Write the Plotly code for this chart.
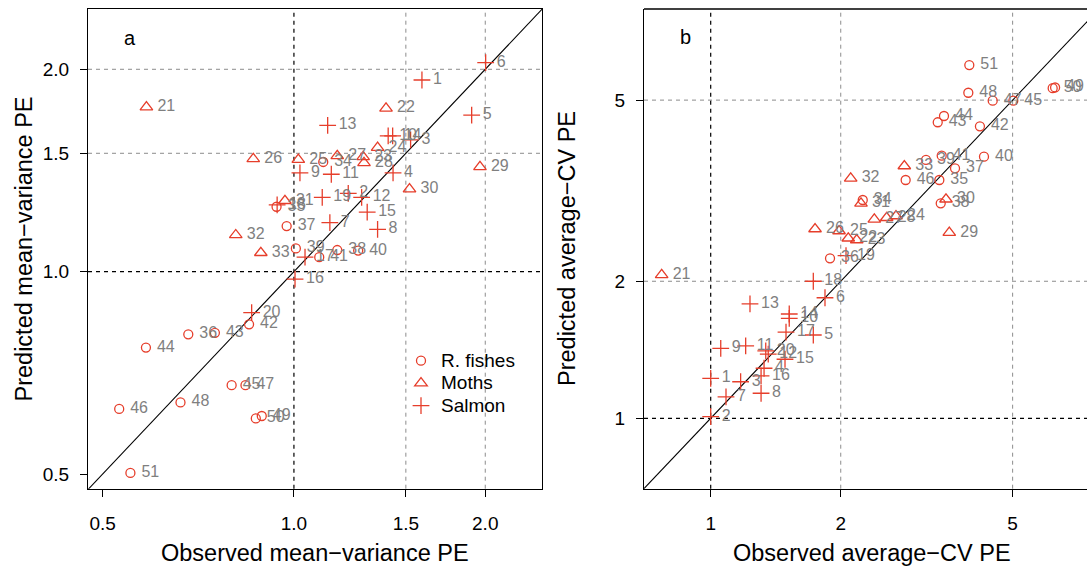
import math
import plotly.graph_objects as go

W, H = 1087, 567
RED = "#E63E2B"
GREY = "#7F7F7F"
FONT = "Liberation Sans, Arial, Helvetica, sans-serif"

# Population ids per group
salmon_id = list(range(1, 21))
moth_id = list(range(21, 34))
fish_id = list(range(34, 52))

# Panel a: mean-variance portfolio effect
mv_obs_salmon = [1.590, 1.2175, 1.526, 1.432, 1.904, 2.003, 1.139, 1.354, 1.022, 1.407,
                 1.145, 1.278, 1.130, 1.430, 1.304, 1.004, 1.041, 0.941, 1.108, 0.858]
mv_pred_salmon = [1.928, 1.308, 1.570, 1.403, 1.710, 2.046, 1.183, 1.156, 1.403, 1.592,
                  1.396, 1.290, 1.651, 1.592, 1.226, 0.975, 1.051, 1.257, 1.290, 0.869]
mv_obs_moth = [0.586, 1.396, 1.285, 1.354, 1.016, 0.863, 1.170, 1.289, 1.962, 1.520,
               0.968, 0.810, 0.887]
mv_pred_moth = [1.757, 1.750, 1.482, 1.529, 1.468, 1.472, 1.487, 1.452, 1.432, 1.327,
                1.275, 1.134, 1.067]
mv_obs_fish = [1.112, 0.939, 0.682, 0.974, 1.170, 1.007, 1.262, 1.096, 0.850, 0.751,
               0.585, 0.798, 0.531, 0.839, 0.663, 0.890, 0.871, 0.553]
mv_pred_fish = [1.456, 1.249, 0.807, 1.169, 1.077, 1.083, 1.075, 1.051, 0.835, 0.811,
                0.771, 0.678, 0.625, 0.678, 0.639, 0.610, 0.605, 0.502]

# Panel b: average-CV portfolio effect
cv_obs_salmon = [1.000, 1.000, 1.173, 1.329, 1.728, 1.839, 1.085, 1.308, 1.055, 1.520,
                 1.205, 1.359, 1.233, 1.520, 1.486, 1.308, 1.494, 1.728, 2.057, 1.341]
cv_pred_salmon = [1.224, 1.008, 1.203, 1.288, 1.524, 1.840, 1.115, 1.135, 1.425, 1.658,
                  1.442, 1.384, 1.783, 1.695, 1.348, 1.239, 1.547, 2.000, 2.276, 1.406]
cv_obs_moth = [0.770, 2.082, 2.178, 2.685, 1.982, 1.744, 2.392, 2.555, 3.567, 3.505,
               2.228, 2.109, 2.807]
cv_pred_moth = [2.065, 2.486, 2.464, 2.782, 2.579, 2.605, 2.736, 2.758, 2.557, 3.028,
                2.967, 3.367, 3.583]
cv_obs_fish = [2.249, 3.383, 1.889, 3.678, 3.408, 3.151, 4.292, 3.426, 4.200, 3.354,
               3.468, 5.018, 2.827, 4.496, 3.948, 6.270, 6.190, 3.969]
cv_pred_fish = [3.017, 3.338, 2.246, 3.541, 2.967, 3.694, 3.756, 3.775, 4.380, 4.470,
                4.614, 4.985, 3.338, 4.985, 5.190, 5.330, 5.310, 5.970]

# Tick and reference-line values
a_ticks = [0.5, 1.0, 1.5, 2.0]
a_ticktext = ["0.5", "1.0", "1.5", "2.0"]
a_grey_lines = [1.5, 2.0]
b_ticks = [1, 2, 5]
b_ticktext = ["1", "2", "5"]
b_grey_lines = [2, 5]

groups = [
    ("R. fishes", "circle-open", 9, fish_id),
    ("Moths", "triangle-up-open", 11, moth_id),
    ("Salmon", "cross-thin-open", 12, salmon_id),
]
panel_a = [(mv_obs_fish, mv_pred_fish), (mv_obs_moth, mv_pred_moth), (mv_obs_salmon, mv_pred_salmon)]
panel_b = [(cv_obs_fish, cv_pred_fish), (cv_obs_moth, cv_pred_moth), (cv_obs_salmon, cv_pred_salmon)]

fig = go.Figure()

# 1:1 lines
for xa, ya in (("x", "y"), ("x2", "y2")):
    fig.add_trace(go.Scatter(x=[0.3, 12], y=[0.3, 12], mode="lines", xaxis=xa, yaxis=ya,
                             line=dict(color="black", width=1.1), showlegend=False,
                             hoverinfo="skip"))

# points
for (name, sym, size, ids), (xa_vals, ya_vals), (xb_vals, yb_vals) in zip(groups, panel_a, panel_b):
    marker = dict(symbol=sym, size=size, color=RED, line=dict(color=RED, width=1.3))
    fig.add_trace(go.Scatter(x=xa_vals, y=ya_vals, mode="markers", marker=marker,
                             name=f'<span style="font-size:19px">{name}</span>',
                             xaxis="x", yaxis="y", showlegend=True))
    fig.add_trace(go.Scatter(x=xb_vals, y=yb_vals, mode="markers", marker=marker,
                             name=name, xaxis="x2", yaxis="y2", showlegend=False))

# id labels, drawn on top
for (name, sym, size, ids), (xa_vals, ya_vals), (xb_vals, yb_vals) in zip(groups, panel_a, panel_b):
    for xa, ya, xv, yv in (("x", "y", xa_vals, ya_vals), ("x2", "y2", xb_vals, yb_vals)):
        fig.add_trace(go.Scatter(
            x=xv, y=yv, mode="markers+text", text=[str(i) for i in ids],
            textposition="middle right",
            textfont=dict(family=FONT, size=16, color=GREY),
            marker=dict(size=16, color="rgba(0,0,0,0)", line=dict(width=0)),
            xaxis=xa, yaxis=ya, showlegend=False, hoverinfo="skip"))

y_dom = [1 - 488.7 / H, 1 - 9 / H]
common = dict(type="log", showgrid=False, zeroline=False, ticks="outside", ticklen=7,
              tickwidth=1, tickcolor="black", showline=True, linecolor="black", linewidth=1.3,
              tickfont=dict(family=FONT, size=19, color="black"))

fig.update_layout(
    width=W, height=H, margin=dict(l=0, r=0, t=0, b=0),
    paper_bgcolor="white", plot_bgcolor="white",
    font=dict(family=FONT, color="black"),
    xaxis=dict(domain=[88 / W, 542 / W], range=[-0.3240, 0.3903], tickvals=a_ticks,
               ticktext=a_ticktext, mirror=True, anchor="y", ticklabelstandoff=10, **common),
    yaxis=dict(domain=y_dom, range=[-0.3228, 0.3907], tickvals=a_ticks,
               ticktext=a_ticktext, mirror=True, anchor="x", ticklabelstandoff=7, **common),
    xaxis2=dict(domain=[644 / W, 1.0], range=[-0.15441, 0.87113], tickvals=b_ticks,
                ticktext=b_ticktext, anchor="y2", ticklabelstandoff=10, **common),
    yaxis2=dict(domain=y_dom, range=[-0.15465, 0.89912], tickvals=b_ticks,
                ticktext=b_ticktext, anchor="x2", ticklabelstandoff=7, **common),
    legend=dict(x=401 / W, y=1 - 344.4 / H, xanchor="left", yanchor="top",
                bgcolor="rgba(0,0,0,0)", font=dict(family=FONT, size=15, color="black"),
                tracegroupgap=0),
)

# dashed reference lines
shapes = []
for xa, ya, greys in (("x", "y", a_grey_lines), ("x2", "y2", b_grey_lines)):
    for v in greys:
        shapes.append(dict(type="line", xref=xa, yref=f"{ya} domain", x0=v, x1=v, y0=0, y1=1,
                           line=dict(color="#8C8C8C", width=1, dash="4px,4px"), layer="below"))
        shapes.append(dict(type="line", xref=f"{xa} domain", yref=ya, x0=0, x1=1, y0=v, y1=v,
                           line=dict(color="#8C8C8C", width=1, dash="4px,4px"), layer="below"))
    shapes.append(dict(type="line", xref=xa, yref=f"{ya} domain", x0=1, x1=1, y0=0, y1=1,
                       line=dict(color="black", width=1.2, dash="4px,4px"), layer="below"))
    shapes.append(dict(type="line", xref=f"{xa} domain", yref=ya, x0=0, x1=1, y0=1, y1=1,
                       line=dict(color="black", width=1.2, dash="4px,4px"), layer="below"))
# top edge of panel b frame, running off the page
shapes.append(dict(type="line", xref="paper", yref="paper", x0=644 / W, x1=1.02,
                   y0=y_dom[1], y1=y_dom[1], line=dict(color="black", width=1.3)))
fig.update_layout(shapes=shapes)

ann = [
    dict(text="a", x=129.7 / W, y=1 - 38 / H, font=dict(size=20)),
    dict(text="b", x=685.4 / W, y=1 - 37.3 / H, font=dict(size=20)),
    dict(text="Observed mean\u2212variance PE", x=315 / W, y=1 - 553 / H, font=dict(size=23.5)),
    dict(text="Observed average\u2212CV PE", x=871.5 / W, y=1 - 553 / H, font=dict(size=23.5)),
    dict(text="Predicted mean\u2212variance PE", x=23.5 / W, y=1 - 249 / H, textangle=-90,
         font=dict(size=23.5)),
    dict(text="Predicted average\u2212CV PE", x=567 / W, y=1 - 249 / H, textangle=-90,
         font=dict(size=23.5)),
]
for a in ann:
    a.update(xref="paper", yref="paper", showarrow=False, xanchor="center", yanchor="middle")
    a["font"].update(family=FONT, color="black")
fig.update_layout(annotations=ann)

fig.write_html("out.html")
